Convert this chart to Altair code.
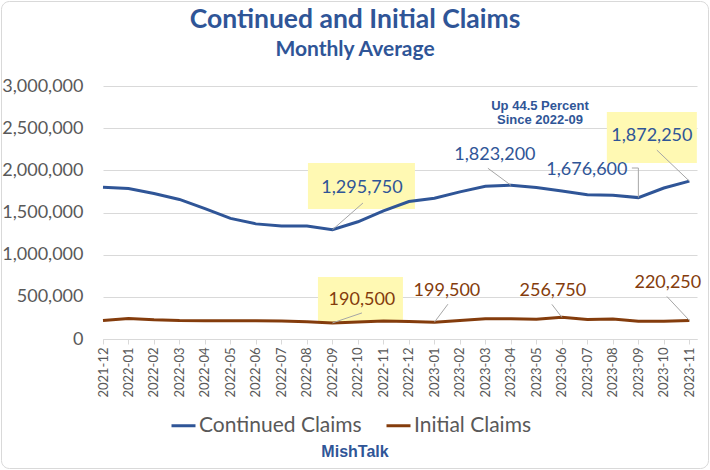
import json
import altair as alt
import pandas as pd

# ---- data -------------------------------------------------------------
months = [
    "2021-12", "2022-01", "2022-02", "2022-03", "2022-04", "2022-05",
    "2022-06", "2022-07", "2022-08", "2022-09", "2022-10", "2022-11",
    "2022-12", "2023-01", "2023-02", "2023-03", "2023-04", "2023-05",
    "2023-06", "2023-07", "2023-08", "2023-09", "2023-10", "2023-11",
]
continued = [
    1800000, 1785000, 1725000, 1655000, 1545000, 1430000,
    1365000, 1340000, 1340000, 1295750, 1390000, 1520000,
    1630000, 1670000, 1745000, 1810000, 1823200, 1797000,
    1755000, 1710000, 1705000, 1676600, 1790000, 1872250,
]
initial = [
    218000, 243000, 227000, 218000, 216000, 216000,
    216000, 214000, 206000, 190500, 202000, 214000,
    208000, 199500, 220000, 240000, 240000, 233000,
    256750, 230000, 237000, 210000, 210000, 220250,
]
series_names = ["Continued Claims", "Initial Claims"]
y_ticks = [0, 500000, 1000000, 1500000, 2000000, 2500000, 3000000]

# ---- styling ----------------------------------------------------------
BLUE = "#2F5597"
BROWN = "#843C0C"
GREY_TEXT = "#595959"
GRID = "#D9D9D9"
LEADER = "#A6A6A6"
BOX = "#FFF9B3"
FONT = "Lato"

W, H = 594, 253
X_MAX = 23.3
Y_MAX = 3_000_000
PX_X = W / X_MAX
PX_Y = H / Y_MAX

idx = list(range(len(months)))
series_vals = {series_names[0]: continued, series_names[1]: initial}
series_color = {series_names[0]: BLUE, series_names[1]: BROWN}

lines_df = pd.DataFrame({
    "i": idx * 2,
    "month": months * 2,
    "value": continued + initial,
    "series": [series_names[0]] * len(months) + [series_names[1]] * len(months),
})

# Callouts: series, month, text offset (px), leader path (px, ending at the point),
# optional highlight box (left, right, top, bottom in px relative to the point)
callouts = [
    (0, "2022-09", (29.5, -41.7), [(30.5, -26.7)], (-24.5, 82.5, -66.7, -20.7)),
    (0, "2023-04", (-16, -30), [(-23, -17)], None),
    (0, "2023-09", (-51.5, -28), [(-6.5, -29.6), (0, -29.6)], None),
    (0, "2023-11", (-37.5, -45), [(-32.5, -31)], (-82.5, 7.5, -69, -18)),
    (1, "2022-09", (29.5, -23), [(29.5, -10)], (-14.5, 70.5, -46, -1)),
    (1, "2023-01", (12.5, -31), [(13.5, -18)], None),
    (1, "2023-06", (-9, -26), [(-10, -13)], None),
    (1, "2023-11", (-21.5, -37), [(-22.5, -24)], None),
]


def shift(i, v, dx, dy):
    """Move a data point by a pixel offset, returned in data units."""
    return i + dx / PX_X, v - dy / PX_Y


label_rows, leader_rows, box_rows = [], [], []
for s, m, (tdx, tdy), path, box in callouts:
    name = series_names[s]
    i = months.index(m)
    v = series_vals[name][i]
    tx, ty = shift(i, v, tdx, tdy)
    label_rows.append({"x": tx, "y": ty, "text": f"{v:,}", "tcolor": series_color[name]})
    pts = list(path) + [(0, 0)]
    for (ax, ay), (bx, by) in zip(pts[:-1], pts[1:]):
        x1, y1 = shift(i, v, ax, ay)
        x2, y2 = shift(i, v, bx, by)
        leader_rows.append({"x": x1, "y": y1, "x2": x2, "y2": y2})
    if box:
        l, r, t, b = box
        x1, y1 = shift(i, v, l, t)
        x2, y2 = shift(i, v, r, b)
        box_rows.append({"x": x1, "y": y1, "x2": x2, "y2": y2})

labels_df = pd.DataFrame(label_rows)
leaders_df = pd.DataFrame(leader_rows)
boxes_df = pd.DataFrame(box_rows)

x_scale = alt.Scale(domain=[0, X_MAX], nice=False, zero=True)
y_scale = alt.Scale(domain=[0, Y_MAX], nice=False)

x_axis = alt.Axis(
    values=idx,
    labelExpr=f"{json.dumps(months)}[datum.value]",
    labelOverlap=False,
    title=None,
)
y_axis = alt.Axis(values=y_ticks, format=",d", title=None)

boxes = alt.Chart(boxes_df).mark_rect(color=BOX).encode(
    x=alt.X("x:Q", scale=x_scale, axis=x_axis),
    x2="x2:Q",
    y=alt.Y("y:Q", scale=y_scale, axis=y_axis),
    y2="y2:Q",
)

lines = alt.Chart(lines_df).mark_line(strokeWidth=3).encode(
    x=alt.X("i:Q", scale=x_scale, axis=x_axis),
    y=alt.Y("value:Q", scale=y_scale, axis=y_axis),
    color=alt.Color(
        "series:N",
        scale=alt.Scale(domain=series_names, range=[BLUE, BROWN]),
        legend=alt.Legend(
            title=None, orient="none", direction="horizontal",
            legendX=67, legendY=326,
            symbolType="stroke", symbolSize=576, symbolStrokeWidth=3,
            labelFont=FONT, labelFontSize=21, labelColor=GREY_TEXT,
            labelLimit=400, labelOffset=2, columnPadding=18, symbolOffset=0,
        ),
    ),
)

leaders = alt.Chart(leaders_df).mark_rule(color=LEADER, strokeWidth=1).encode(
    x=alt.X("x:Q", axis=x_axis), x2="x2:Q",
    y=alt.Y("y:Q", axis=y_axis), y2="y2:Q",
)

labels = alt.Chart(labels_df).mark_text(font=FONT, fontSize=18).encode(
    x=alt.X("x:Q", axis=x_axis), y=alt.Y("y:Q", axis=y_axis), text="text:N",
    color=alt.Color("tcolor:N", scale=None),
)

one = pd.DataFrame({"k": [0]})

title = alt.Chart(one).mark_text(
    font=FONT, fontSize=26.5, fontWeight="bold", color=BLUE, baseline="middle"
).encode(x=alt.value(252), y=alt.value(-66), text=alt.value("Continued and Initial Claims"))

subtitle = alt.Chart(one).mark_text(
    font=FONT, fontSize=21, fontWeight="bold", color=BLUE, baseline="middle"
).encode(x=alt.value(252), y=alt.value(-36), text=alt.value("Monthly Average"))

note = alt.Chart(one).mark_text(
    font="Liberation Sans", fontSize=13, fontWeight="bold", color=BLUE,
    baseline="middle", lineBreak="\n", lineHeight=14,
).encode(x=alt.value(437), y=alt.value(20), text=alt.value("Up 44.5 Percent\nSince 2022-09"))

credit = alt.Chart(one).mark_text(
    font="Liberation Sans", fontSize=16, fontWeight="bold", color=BLUE, baseline="middle"
).encode(x=alt.value(252), y=alt.value(366), text=alt.value("MishTalk"))

frame = alt.Chart(one).mark_rect(
    fill=None, stroke=GRID, strokeWidth=1, cornerRadius=8
).encode(
    x=alt.value(-101.5), x2=alt.value(605.5), y=alt.value(-84.5), y2=alt.value(382.5)
)

chart = alt.layer(
    frame, boxes, lines, leaders, labels, title, subtitle, note, credit
).properties(
    width=W, height=H,
    autosize=alt.AutoSizeParams(type="none"),
    padding={"left": 103, "top": 86, "right": 13, "bottom": 131},
    background="white",
).configure_view(
    stroke=None
).configure_axisX(
    labelAngle=270, labelAlign="right", labelBaseline="middle",
    labelFont=FONT, labelFontSize=13, labelColor=GREY_TEXT, labelPadding=3,
    labelOverlap=False, labelFlush=False, labelSeparation=0,
    grid=False, domainColor=GRID, domainWidth=1,
    tickColor=GRID, tickSize=5, tickWidth=1,
).configure_axisY(
    domain=False, ticks=False, grid=True, gridColor=GRID, gridWidth=1,
    labelFont=FONT, labelFontSize=18, labelColor=GREY_TEXT, labelPadding=20,
)

chart.save("out.html", embed_options={"renderer": "svg", "actions": False})
